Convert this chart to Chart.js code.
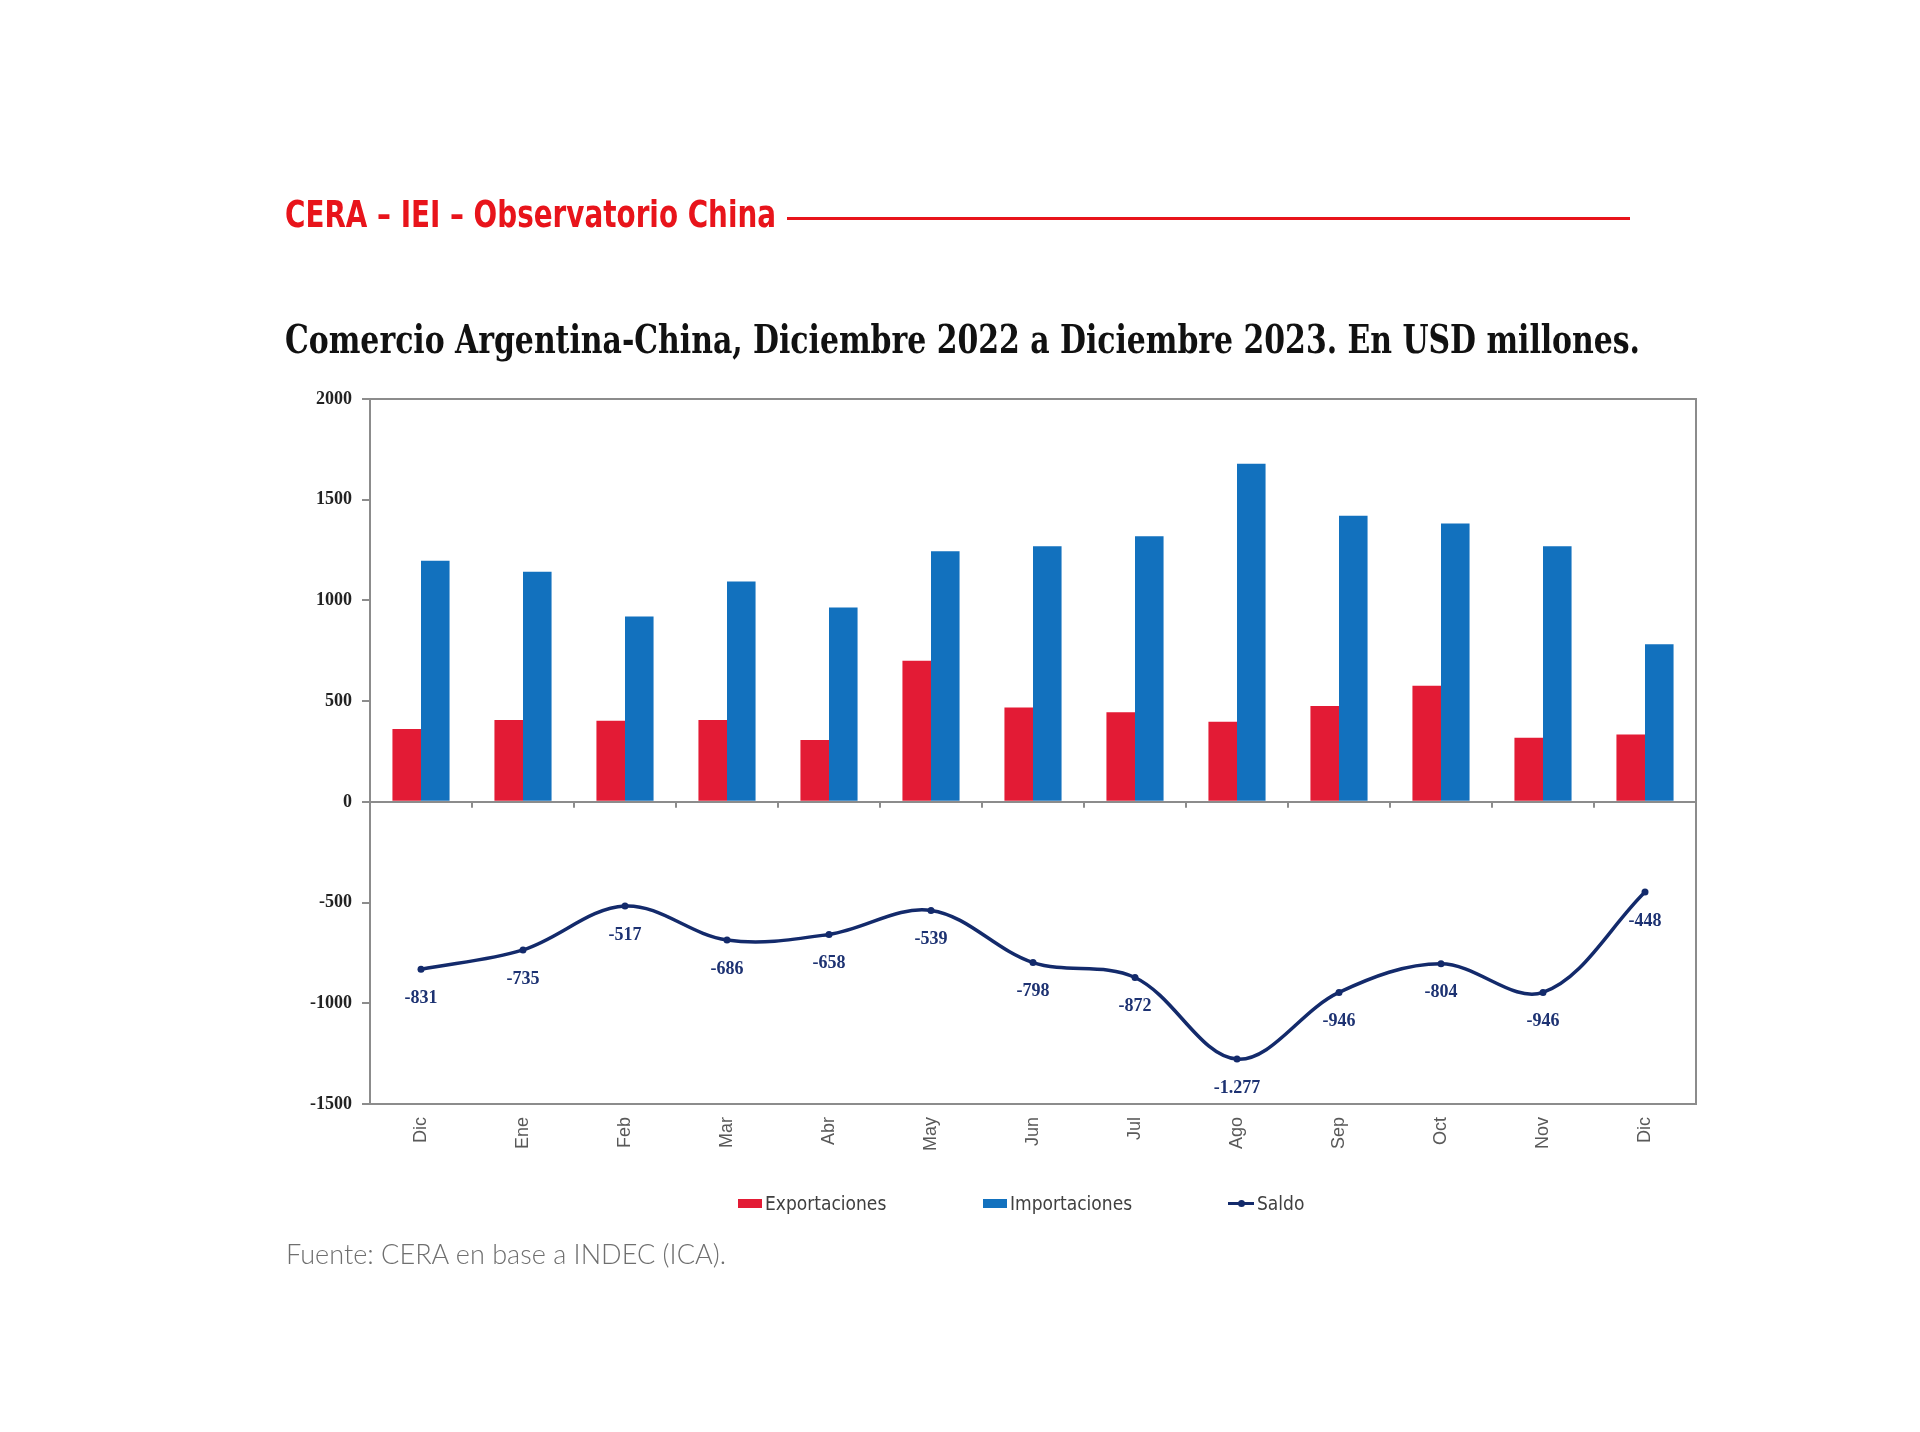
<!DOCTYPE html>
<html><head><meta charset="utf-8">
<script src="https://cdn.jsdelivr.net/npm/chart.js@4.4.1/dist/chart.umd.min.js"></script>
<style>
html,body{margin:0;padding:0;background:#fff;}
#wrap{position:relative;width:1920px;height:1432px;overflow:hidden;background:#fff;}
#c{position:absolute;left:0;top:0;}
.t{position:absolute;white-space:nowrap;transform-origin:0 0;line-height:1;}
#hdr{left:285px;top:195px;font-family:"Liberation Sans Narrow","DejaVu Sans Condensed",sans-serif;font-weight:bold;font-size:38px;color:#e8141b;}
#hdrline{position:absolute;left:787px;top:217px;width:843px;height:3px;background:#e8141b;}
#sub{left:285px;top:319px;font-family:"DejaVu Serif Condensed","DejaVu Serif",serif;font-weight:bold;font-size:40px;color:#111;}
#src{left:286px;top:1239px;font-family:Lato,"Open Sans",sans-serif;font-weight:300;font-size:28px;color:#6f6f6f;}
#legend{position:absolute;left:738px;top:1191px;display:flex;font-family:"Liberation Sans Narrow","DejaVu Sans Condensed",sans-serif;font-size:19px;color:#404040;}
#legend .it{width:245px;display:flex;align-items:center;height:24px;}
#legend .sw{display:inline-block;width:24px;height:9px;margin-right:3px;}
#legend .ln{position:relative;display:inline-block;width:26px;height:3px;margin-right:3px;}
#legend .ln i{position:absolute;left:10px;top:-2px;width:7px;height:7px;border-radius:50%;}
</style></head><body>
<div id="wrap">
<canvas id="c" width="1920" height="1432"></canvas>
<div id="hdr" class="t" data-w="491">CERA – IEI – Observatorio China</div>
<div id="hdrline"></div>
<div id="sub" class="t" data-w="1355">Comercio Argentina-China, Diciembre 2022 a Diciembre 2023. En USD millones.</div>
<div id="legend"></div>
<div id="src" class="t" data-w="440">Fuente: CERA en base a INDEC (ICA).</div>
</div>
<script>
// ---- Data ----
const months = ['Dic','Ene','Feb','Mar','Abr','May','Jun','Jul','Ago','Sep','Oct','Nov','Dic'];
const exportaciones = [362, 406, 403, 406, 307, 701, 468, 445, 398, 476, 577, 318, 335];
const importaciones = [1197, 1142, 920, 1094, 965, 1244, 1269, 1318, 1679, 1421, 1382, 1269, 783];
const saldo = [-831, -735, -517, -686, -658, -539, -798, -872, -1277, -946, -804, -946, -448];
const yTicks = [2000, 1500, 1000, 500, 0, -500, -1000, -1500];
const seriesNames = ['Exportaciones', 'Importaciones', 'Saldo'];

const RED = '#e31b35', BLUE = '#1271be', NAVY = '#132a6b', AXIS = '#8c8c8c';

function fmt(v){
  const s = Math.abs(v).toString().replace(/\B(?=(\d{3})+(?!\d))/g, '.');
  return (v < 0 ? '-' : '') + s;
}

// Legend (HTML)
const lg = document.getElementById('legend');
[[seriesNames[0], RED, 'box'], [seriesNames[1], BLUE, 'box'], [seriesNames[2], NAVY, 'line']].forEach(([name, col, kind]) => {
  const it = document.createElement('div'); it.className = 'it';
  const sw = document.createElement('span');
  if (kind === 'box') { sw.className = 'sw'; sw.style.background = col; }
  else { sw.className = 'ln'; sw.style.background = col; const d = document.createElement('i'); d.style.background = col; sw.appendChild(d); }
  it.appendChild(sw); it.appendChild(document.createTextNode(name)); lg.appendChild(it);
});

// fit text widths
document.querySelectorAll('.t[data-w]').forEach(el => {
  const w = el.getBoundingClientRect().width;
  const target = +el.dataset.w;
  el.style.transform = 'scaleX(' + (target / w) + ')';
});

const framePlugin = {
  id: 'frame',
  beforeDatasetsDraw(chart) {
    const {ctx, scales} = chart;
    const x = scales.x, y = scales.y;
    const y0 = y.getPixelForValue(0);
    ctx.save();
    ctx.strokeStyle = AXIS; ctx.lineWidth = 2;
    for (let i = 1; i < months.length; i++) {
      const bx = (x.getPixelForValue(i - 1) + x.getPixelForValue(i)) / 2;
      ctx.beginPath(); ctx.moveTo(bx, y0); ctx.lineTo(bx, y0 + 6); ctx.stroke();
    }
    ctx.restore();
  },
  afterDraw(chart) {
    const {ctx, chartArea: a} = chart;
    ctx.save();
    ctx.strokeStyle = AXIS; ctx.lineWidth = 2;
    ctx.strokeRect(a.left, a.top, a.right - a.left, a.bottom - a.top);
    ctx.restore();
  }
};

const labelPlugin = {
  id: 'saldoLabels',
  afterDatasetsDraw(chart) {
    const {ctx} = chart;
    const meta = chart.getDatasetMeta(0);
    ctx.save();
    ctx.font = 'bold 18px "Liberation Serif", serif';
    ctx.fillStyle = '#1d3272';
    ctx.textAlign = 'center'; ctx.textBaseline = 'middle';
    meta.data.forEach((pt, i) => {
      ctx.fillText(fmt(saldo[i]), pt.x, pt.y + 29);
    });
    ctx.restore();
  }
};

new Chart(document.getElementById('c'), {
  data: {
    labels: months,
    datasets: [
      { type: 'line', label: seriesNames[2], data: saldo, borderColor: NAVY, backgroundColor: NAVY,
        borderWidth: 3.5, pointRadius: 3.5, pointBackgroundColor: NAVY, pointBorderWidth: 0,
        tension: 0.35, order: 0 },
      { type: 'bar', label: seriesNames[0], data: exportaciones, backgroundColor: RED,
        barPercentage: 1, categoryPercentage: 0.56, order: 1 },
      { type: 'bar', label: seriesNames[1], data: importaciones, backgroundColor: BLUE,
        barPercentage: 1, categoryPercentage: 0.56, order: 1 }
    ]
  },
  options: {
    responsive: false, animation: false,
    layout: { padding: { left: 250, right: 224, top: 399, bottom: 248 } },
    plugins: { legend: { display: false }, tooltip: { enabled: false } },
    scales: {
      x: {
        offset: true,
        grid: { display: false, drawTicks: false },
        border: { display: false },
        ticks: { maxRotation: 90, minRotation: 90, autoSkip: false, padding: 13, color: '#595959',
                 font: { family: '"Liberation Sans", Arial, sans-serif', size: 18 } },
        afterFit(s) { s.height = 80; }
      },
      y: {
        min: yTicks[yTicks.length - 1], max: yTicks[0],
        afterBuildTicks(s) { s.ticks = yTicks.map(v => ({ value: v })); },
        ticks: { padding: 10, color: '#222', font: { family: '"Liberation Serif", serif', size: 18, weight: 'bold' },
                 callback: v => String(v) },
        grid: { color: c => (c.tick && c.tick.value === 0) ? AXIS : 'rgba(0,0,0,0)', lineWidth: 2,
                tickLength: 8, tickColor: AXIS, tickWidth: 2 },
        border: { display: true, color: AXIS, width: 2 },
        afterFit(s) { s.width = 120; }
      }
    }
  },
  plugins: [framePlugin, labelPlugin]
});
</script>
</body></html>
